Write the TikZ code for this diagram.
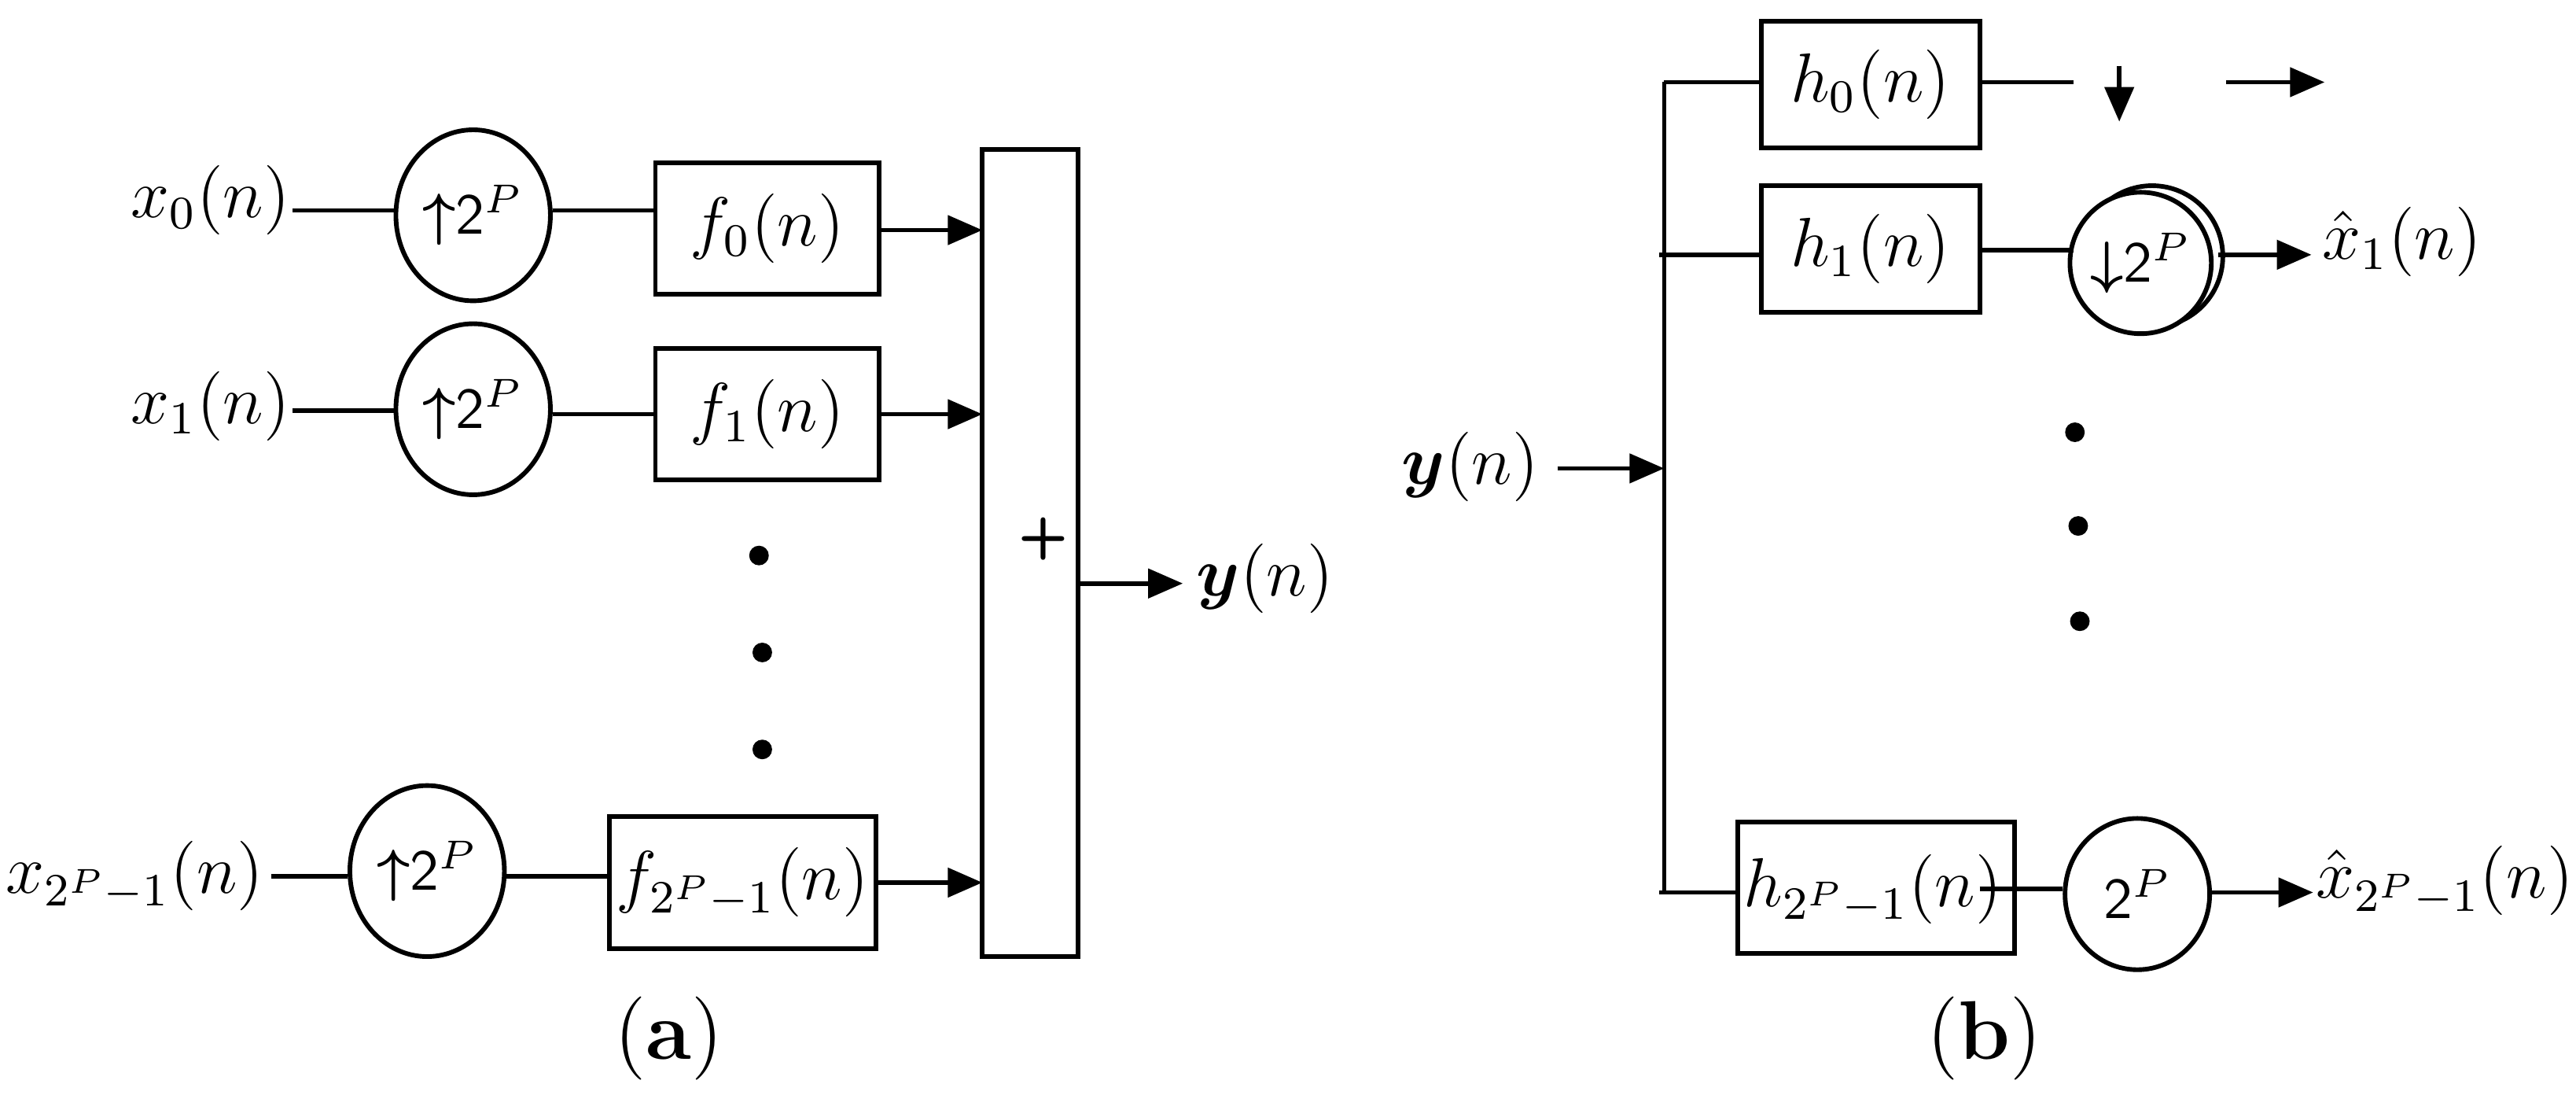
\documentclass[tikz,border=0pt]{standalone}
\usepackage{amsmath,bm}
\usetikzlibrary{arrows.meta,shapes.geometric}
\begin{document}
\begin{tikzpicture}[x=0.01cm,y=-0.01cm,
  lbl/.style={font=\large, inner sep=0pt},
  ell/.style={draw, thick, ellipse, inner sep=0pt, font=\sffamily},
  ln/.style={thick},
  ar/.style={thick,-{Triangle[length=6pt,width=5pt]}},
  dot/.style={circle, fill, inner sep=1.2pt}]
\useasboundingbox (0,0) rectangle (1568,666);
% panel a
\node[lbl] (x0) at (128,122) {$x_0(n)$};
\node[lbl] (x1) at (128,247) {$x_1(n)$};
\node[lbl] (x2) at (82,533) {$x_{2^P-1}(n)$};
\node[ell,minimum width=0.94cm,minimum height=1.04cm] (u0) at (288,131) {$\bm\uparrow$2$^P$};
\node[ell,minimum width=0.94cm,minimum height=1.04cm] (u1) at (288,249) {$\bm\uparrow$2$^P$};
\node[ell,minimum width=0.94cm,minimum height=1.04cm] (u2) at (260,530) {$\bm\uparrow$2$^P$};
\node[draw,thick,minimum width=1.36cm,minimum height=0.8cm,lbl] (f0) at (467,139) {$f_0(n)$};
\node[draw,thick,minimum width=1.36cm,minimum height=0.8cm,lbl] (f1) at (467,252) {$f_1(n)$};
\node[draw,thick,minimum width=1.62cm,minimum height=0.8cm,lbl] (f2) at (452,537) {$f_{2^P-1}(n)$};
\node[draw,thick,minimum width=0.58cm,minimum height=4.91cm] (sum) at (627,336.5) {};
\node[font=\bfseries\sffamily] (plus) at (635,328) {+};
\node[lbl] (y) at (770,352) {$\bm{y}(n)$};
\coordinate (sa0) at (598,140);
\coordinate (sa1) at (598,252);
\coordinate (sa2) at (598,537);
\coordinate (so) at (656,355);
\coordinate (yo) at (720,355);
\draw[ln] (178,128) -- (u0.west |- 0,128);
\draw[ln] (u0.east |- 0,128) -- (f0.west |- 0,128);
\draw[ln] (178,250) -- (u1.west |- 0,250);
\draw[ln] (u1.east |- 0,252) -- (f1.west |- 0,252);
\draw[ln] (165,533) -- (u2.west |- 0,533);
\draw[ln] (u2.east |- 0,533) -- (f2.west |- 0,533);
\draw[ar] (f0.east |- sa0) -- (sa0);
\draw[ar] (f1.east |- sa1) -- (sa1);
\draw[ar] (f2.east |- sa2) -- (sa2);
\draw[ar] (so) -- (yo);
\node[dot] (d1) at (462,338) {};
\node[dot] (d2) at (464,397) {};
\node[dot] (d3) at (464,456) {};
\node[font=\Large] (ca) at (407,632) {(\textbf{a})};
% panel b
\node[lbl] (yb) at (895,284) {$\bm{y}(n)$};
\coordinate (bt) at (1013,50);
\coordinate (bb) at (1013,543);
\coordinate (bm) at (1013,285);
\draw[ar] (948,285) -- (bm);
\draw[ln] (bt) -- (bb);
\node[draw,thick,minimum width=1.33cm,minimum height=0.77cm,lbl] (h0) at (1138.5,51.5) {$h_0(n)$};
\node[draw,thick,minimum width=1.33cm,minimum height=0.77cm,lbl] (h1) at (1138.5,151.5) {$h_1(n)$};
\node[draw,thick,minimum width=1.68cm,minimum height=0.8cm] (h2) at (1142,540) {};
\draw[ln] (bt) -- (h0.west |- bt);
\draw[ln] (1010,155) -- (h1.west |- 0,155);
\draw[ln] (1010,543) -- (h2.west |- 0,543);
\draw[ln] (h0.east |- 0,50) -- (1262,50);
\coordinate (da) at (1290,40);
\coordinate (db) at (1290,74);
\draw[ar] (da) -- (db);
\coordinate (ta) at (1355,50);
\coordinate (tb) at (1415,50);
\draw[ar] (ta) -- (tb);
\node[draw,thick,circle,minimum size=0.86cm,inner sep=0pt] (c1b) at (1310,156) {};
\node[draw,thick,circle,fill=white,minimum size=0.86cm,inner sep=0pt,font=\sffamily] (c1) at (1303,160) {$\bm\downarrow$2$^P$};
\draw[ln] (h1.east |- 0,152) -- (1262,152);
\coordinate (o1) at (1407,155);
\draw[ar] (1350,155) -- (o1);
\node[lbl] (xh1) at (1462,147) {$\hat{x}_1(n)$};
\node[dot] (e1) at (1263,263) {};
\node[dot] (e2) at (1265,320) {};
\node[dot] (e3) at (1266,378) {};
\node[draw,thick,ellipse,minimum width=0.88cm,minimum height=0.92cm,inner sep=0pt,font=\sffamily] (c2) at (1301,544) {2$^P$};
\draw[ln] (1205,541) -- (c2.west |- 0,541);
\node[lbl] (h2t) at (1140,541) {$h_{2^P-1}(n)$};
\coordinate (o2) at (1408,543);
\draw[ar] (c2.east |- o2) -- (o2);
\node[lbl] (xh2) at (1488,536) {$\hat{x}_{2^P-1}(n)$};
\node[font=\Large] (cb) at (1208,632) {(\textbf{b})};
\end{tikzpicture}
\end{document}
